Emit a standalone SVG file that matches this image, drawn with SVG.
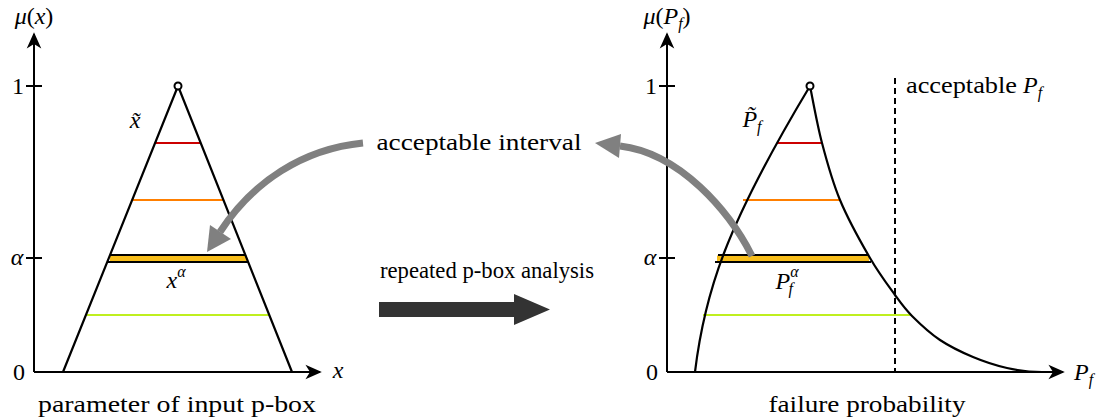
<svg xmlns="http://www.w3.org/2000/svg" width="1107" height="420" viewBox="0 0 1107 420">
<style>
text{font-family:"Liberation Serif","DejaVu Serif",serif;font-size:24px;fill:#000}
.it{font-style:italic}
.ax{stroke:#000;stroke-width:2;fill:none}
.cv{stroke:#000;stroke-width:2.2;fill:none;stroke-linejoin:round}
.lv{stroke-width:2.2;fill:none}
.gray{stroke:#808080;stroke-width:7;fill:none}
</style>
<defs>
<marker id="stealth" markerWidth="20" markerHeight="20" viewBox="-2 -10 22 20" refX="16" refY="0" orient="auto" markerUnits="userSpaceOnUse">
<path d="M0,-8 L18,0 L0,8 L5,0 Z" fill="#000"/>
</marker>
</defs>
<g id="left-axes">
<line class="ax" x1="34" y1="372" x2="34" y2="34" marker-end="url(#stealth)"/>
<line class="ax" x1="34" y1="372" x2="320" y2="372" marker-end="url(#stealth)"/>
<line class="ax" x1="26" y1="86" x2="42" y2="86"/>
<line class="ax" x1="26" y1="258" x2="42" y2="258"/>
<text x="34" y="24" text-anchor="middle"><tspan class="it">μ</tspan>(<tspan class="it">x</tspan>)</text>
<text x="18" y="94" text-anchor="middle">1</text>
<text x="17" y="265" text-anchor="middle" class="it">α</text>
<text x="19" y="380" text-anchor="middle">0</text>
<text x="338" y="378" text-anchor="middle" class="it">x</text>
<text x="177" y="412" text-anchor="middle" textLength="278" lengthAdjust="spacingAndGlyphs">parameter of input p-box</text>
</g>
<g id="left-fuzzy">
<line class="lv" stroke="#cc0000" x1="156" y1="143" x2="200" y2="143"/>
<line class="lv" stroke="#ff7f00" x1="133" y1="200" x2="223" y2="200"/>
<rect x="110" y="255.5" width="137" height="6" fill="#f7bd1a"/>
<line class="ax" x1="110" y1="255" x2="246" y2="255"/>
<line class="ax" x1="108" y1="262" x2="248" y2="262"/>
<line class="lv" stroke="#bfef1f" x1="87" y1="315" x2="269" y2="315"/>
<path class="cv" d="M63,372 L178,86 L292,372"/>
<circle cx="178" cy="86" r="3.5" fill="#fff" stroke="#000" stroke-width="2"/>
<text x="135" y="128" text-anchor="middle" class="it">x̃</text>
<text x="176" y="288" text-anchor="middle"><tspan class="it">x</tspan><tspan class="it" font-size="16" dy="-11">α</tspan></text>
</g>
<g id="right-axes">
<line class="ax" x1="667" y1="372" x2="667" y2="34" marker-end="url(#stealth)"/>
<line class="ax" x1="667" y1="372" x2="1063" y2="372" marker-end="url(#stealth)"/>
<line class="ax" x1="659" y1="86" x2="675" y2="86"/>
<line class="ax" x1="659" y1="258" x2="675" y2="258"/>
<text x="667" y="24" text-anchor="middle"><tspan class="it">μ</tspan>(<tspan class="it">P</tspan><tspan class="it" font-size="16" dy="5">f</tspan><tspan dy="-5">)</tspan></text>
<text x="651" y="94" text-anchor="middle">1</text>
<text x="650" y="265" text-anchor="middle" class="it">α</text>
<text x="652" y="380" text-anchor="middle">0</text>
<text x="1074" y="380" class="it">P<tspan font-size="16" dy="5">f</tspan></text>
<text x="867" y="412" text-anchor="middle" textLength="197" lengthAdjust="spacingAndGlyphs">failure probability</text>
<line stroke="#000" stroke-width="2" stroke-dasharray="6,4" x1="895" y1="78" x2="895" y2="372"/>
<text x="906" y="93"><tspan textLength="111" lengthAdjust="spacingAndGlyphs">acceptable</tspan> <tspan class="it">P</tspan><tspan class="it" font-size="16" dy="5">f</tspan></text>
</g>
<g id="right-fuzzy">
<line class="lv" stroke="#cc0000" x1="777" y1="143" x2="822" y2="143"/>
<line class="lv" stroke="#ff7f00" x1="743" y1="200" x2="840" y2="200"/>
<rect x="717" y="255.5" width="152" height="6" fill="#f7bd1a"/>
<line class="ax" x1="718" y1="255" x2="868" y2="255"/>
<line class="ax" x1="715" y1="262" x2="871" y2="262"/>
<line class="lv" stroke="#bfef1f" x1="703" y1="315" x2="911" y2="315"/>
<path class="cv" d="M810,86 C726,226 704.6,292 695,372"/>
<path class="cv" d="M810,86 C812,95.5 817,124 822,143 C827,162 832,180.8 840,200 C848,219.2 860.8,242.2 870,258 C879.2,273.8 888,285.3 895,295 C902,304.7 904.5,308.5 912,316 C919.5,323.5 929.8,333.2 940,340 C950.2,346.8 961.8,352.3 973,357 C984.2,361.7 995.8,365.5 1007,368 C1018.2,370.5 1030,372 1042,372"/>
<circle cx="810" cy="86" r="3.5" fill="#fff" stroke="#000" stroke-width="2"/>
<text x="752" y="127" text-anchor="middle" class="it">P̃<tspan font-size="16" dy="5">f</tspan></text>
<text x="787" y="289" text-anchor="middle" class="it">P<tspan font-size="16" dy="-12">α</tspan><tspan font-size="16" dx="-10" dy="17">f</tspan></text>
</g>
<g id="middle-labels">
<text x="479" y="150" text-anchor="middle" textLength="205" lengthAdjust="spacingAndGlyphs">acceptable interval</text>
<text x="487" y="278" text-anchor="middle" textLength="214" lengthAdjust="spacingAndGlyphs">repeated p-box analysis</text>
</g>
<g id="connectors">
<path class="gray" d="M363,143 C303,149 252.7,181.7 220,232"/>
<polygon points="207,252 210,225 231,239" fill="#808080"/>
<path class="gray" d="M752,256 C729.5,211.5 680,153 620,146"/>
<polygon points="595,143 621,134 619,158" fill="#808080"/>
<polygon points="379,302 514,302 514,294 550,309.5 514,325 514,317 379,317" fill="#333333"/>
</g>
</svg>
